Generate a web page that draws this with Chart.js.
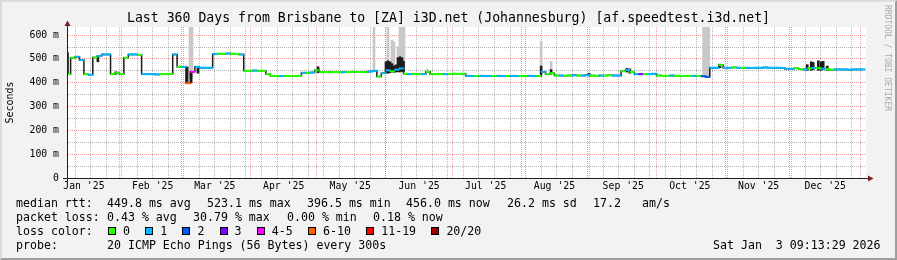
<!DOCTYPE html>
<html>
<head>
<meta charset="utf-8">
<title>Last 360 Days from Brisbane to [ZA] i3D.net (Johannesburg)</title>
<script src="https://cdn.jsdelivr.net/npm/chart.js@4.4.1/dist/chart.umd.min.js"></script>
<style>
  html, body { margin: 0; padding: 0; background: #f2f2f2; }
  #graph { position: relative; width: 897px; height: 260px; background: #f2f2f2; overflow: hidden; }
  #graph canvas { position: absolute; left: 0; top: 0; }
  #frame { position: absolute; left: 0; top: 0; width: 897px; height: 260px; box-sizing: border-box;
           border-top: 2px solid #dcdcdc; border-left: 2px solid #dcdcdc;
           border-right: 2px solid #9e9e9e; border-bottom: 2px solid #9e9e9e; pointer-events: none; }
  .txt { position: absolute; font-family: 'DejaVu Sans Mono', monospace; font-size: 11.6px; line-height: 14px; white-space: pre; color: #000; }
  .box { position: absolute; width: 6px; height: 6px; border: 1px solid #000; }
  #wm { position: absolute; left: 892px; top: 5px; transform-origin: left top; transform: rotate(90deg);
        font-family: 'DejaVu Sans Mono', monospace; font-size: 8px; line-height: 10px; white-space: pre; color: #aaaaaa; }
</style>
</head>
<body>
<div id="graph">
  <canvas id="rrd" width="897" height="260"></canvas>
  <div id="frame"></div>
  <div id="wm">RRDTOOL / TOBI OETIKER</div>

  <div class="txt" style="left:16px;top:196px">median rtt:</div>
  <div class="txt" style="left:107px;top:196px">449.8 ms avg</div>
  <div class="txt" style="left:207px;top:196px">523.1 ms max</div>
  <div class="txt" style="left:307px;top:196px">396.5 ms min</div>
  <div class="txt" style="left:406px;top:196px">456.0 ms now</div>
  <div class="txt" style="left:507px;top:196px">26.2 ms sd</div>
  <div class="txt" style="left:593px;top:196px">17.2</div>
  <div class="txt" style="left:642px;top:196px">am/s</div>

  <div class="txt" style="left:16px;top:210px">packet loss:</div>
  <div class="txt" style="left:107px;top:210px">0.43 % avg</div>
  <div class="txt" style="left:193px;top:210px">30.79 % max</div>
  <div class="txt" style="left:287px;top:210px">0.00 % min</div>
  <div class="txt" style="left:373px;top:210px">0.18 % now</div>

  <div class="txt" style="left:16px;top:224px">loss color:</div>
  <div id="losslegend"></div>

  <div class="txt" style="left:16px;top:238px">probe:</div>
  <div class="txt" style="left:107px;top:238px">20 ICMP Echo Pings (56 Bytes) every 300s</div>
  <div class="txt" style="left:713px;top:238px">Sat Jan  3 09:13:29 2026</div>
</div>

<script>
// time axis: days since 1 Jan 2025 (Brisbane), graph = 360 days ending Sat 3 Jan 2026 09:13
const xStart = 7.38;
const xEnd = 367.38;
const yTop = 634;

const monthStarts = [0, 31, 59, 90, 120, 151, 181, 212, 243, 273, 304, 334, 365];
const monthLabels = ["Jan '25", "Feb '25", "Mar '25", "Apr '25", "May '25", "Jun '25",
                     "Jul '25", "Aug '25", "Sep '25", "Oct '25", "Nov '25", "Dec '25"];
const firstWeekLine = 11;

const yGrid = [0, 50, 100, 150, 200, 250, 300, 350, 400, 450, 500, 550, 600];
const yLabelled = [0, 100, 200, 300, 400, 500, 600];
const yLabels = ['0', '100 m', '200 m', '300 m', '400 m', '500 m', '600 m'];

// median rtt (ms), one value every 2 days starting at day 8
const sampleStart = 8;
const sampleStep = 2;
const medianRtt = [
  436, 505, 509, 495, 436, 433, 506, 512, 519, 519,
  436, 442, 436, 505, 519, 519, 517, 436, 436, 436,
  435, 436, 436, 437, 519, 467, 466, 398, 446, 467,
  463, 463, 463, 521, 522, 521, 523, 522, 520, 519,
  450, 450, 451, 450, 450, 437, 429, 428, 428, 429,
  428, 428, 429, 442, 442, 443, 452, 444, 445, 444,
  445, 444, 444, 445, 446, 445, 445, 444, 447, 450,
  426, 440, 452, 448, 455, 460, 438, 436, 437, 436,
  436, 446, 436, 436, 437, 436, 437, 438, 437, 438,
  429, 428, 428, 429, 428, 428, 428, 429, 428, 428,
  429, 428, 428, 428, 429, 428, 428, 446, 436, 440,
  430, 430, 429, 430, 431, 430, 430, 433, 430, 429,
  430, 430, 431, 430, 430, 448, 453, 445, 436, 436,
  436, 436, 438, 430, 429, 429, 430, 429, 429, 428,
  429, 429, 429, 427, 425, 463, 463, 474, 463, 463,
  464, 463, 463, 463, 462, 463, 463, 464, 463, 463,
  463, 462, 457, 458, 461, 457, 456, 460, 462, 461,
  459, 457, 455, 456, 456, 456, 455, 456, 456, 456
];
// lost pings out of 20 for the same samples
const lossCount = [
  0, 0, 1, 1, 0, 1, 0, 1, 1, 1,
  0, 0, 0, 0, 1, 1, 0, 1, 1, 1,
  1, 0, 0, 0, 1, 0, 1, 7, 4, 1,
  1, 1, 1, 1, 0, 0, 1, 0, 0, 1,
  0, 0, 1, 0, 0, 0, 0, 0, 1, 0,
  0, 0, 0, 1, 0, 1, 0, 0, 0, 0,
  0, 0, 1, 0, 0, 0, 0, 0, 1, 1,
  0, 1, 1, 0, 1, 1, 0, 1, 0, 0,
  1, 0, 0, 0, 0, 1, 0, 0, 0, 0,
  1, 1, 0, 1, 1, 1, 0, 1, 1, 0,
  1, 1, 0, 0, 1, 1, 0, 1, 0, 0,
  0, 1, 0, 0, 1, 0, 1, 1, 0, 0,
  1, 0, 0, 1, 1, 0, 1, 0, 1, 3,
  0, 1, 1, 0, 0, 0, 1, 0, 0, 0,
  0, 1, 0, 2, 2, 1, 1, 0, 1, 1,
  0, 1, 0, 1, 1, 1, 1, 1, 1, 1,
  1, 1, 1, 1, 0, 0, 1, 0, 1, 0,
  1, 0, 0, 1, 1, 1, 1, 1, 1, 1
];

const lossLabels = ['0', '1', '2', '3', '4-5', '6-10', '11-19', '20/20'];
const lossColors = ['#26ff00', '#00b8ff', '#0059ff', '#7e00ff', '#ff00ff', '#ff5e00', '#ff0000', '#a10000'];

// dense smoke (ping spread)
const smokeDays = [7.6, 21.3, 29.5, 61.5, 63.3, 66.4, 120.5,
  151.1, 152.0, 152.9, 153.8, 154.7, 155.6, 156.5, 157.4, 158.3, 159.0,
  221.0, 225.5, 242.6, 259.7, 261.0, 301.6,
  340.9, 342.7, 343.6, 345.9, 347.2, 348.1, 349.9];
const smokeLow = [436, 488, 436, 398, 400, 440, 442,
  445, 440, 442, 445, 444, 445, 446, 445, 448, 446,
  436, 436, 428, 445, 440, 463,
  452, 452, 455, 452, 452, 455, 452];
const smokeHigh = [527, 508, 446, 466, 446, 463, 467,
  488, 492, 488, 480, 470, 475, 505, 509, 505, 490,
  470, 455, 440, 460, 458, 478,
  476, 488, 485, 492, 488, 490, 470];

// faint outlier smoke
const spikeDays = [62.8, 63.7, 145.7, 152.0, 153.8, 154.7, 156.5, 157.4, 158.3, 159.2,
  169.6, 221.0, 225.5, 294.2, 295.0, 295.8, 296.5];
const spikeLow = [420, 420, 450, 490, 480, 470, 505, 505, 505, 470,
  440, 470, 455, 430, 430, 430, 430];
const spikeHigh = [640, 640, 640, 640, 579, 572, 551, 640, 640, 640,
  458, 575, 490, 640, 640, 640, 640];

function lossBucket(n) {
  if (n <= 3) return n;
  if (n <= 5) return 4;
  if (n <= 10) return 5;
  if (n <= 19) return 6;
  return 7;
}

// loss colour legend
const legendBox = document.getElementById('losslegend');
let lx = 108;
lossLabels.forEach(function (lbl, i) {
  const b = document.createElement('div');
  b.className = 'box';
  b.style.left = lx + 'px';
  b.style.top = '227px';
  b.style.background = lossColors[i];
  legendBox.appendChild(b);
  const t = document.createElement('div');
  t.className = 'txt';
  t.style.left = (lx + 15) + 'px';
  t.style.top = '224px';
  t.textContent = lbl;
  legendBox.appendChild(t);
  lx += 30.2 + 7 * lbl.length;
});

const weekTicks = [];
for (let d = firstWeekLine; d < xEnd; d += 7) weekTicks.push({ value: d });

const mono = 'DejaVu Sans Mono';
const gridMajor = 'rgba(230,60,60,0.5)';
const gridMinor = 'rgba(130,130,130,0.6)';
const medianPoints = medianRtt.map((v, i) => ({ x: sampleStart + i * sampleStep, y: v }));

const rrdFrame = {
  id: 'rrdFrame',
  beforeDraw(chart) {
    const { ctx, chartArea: a } = chart;
    ctx.save();
    ctx.fillStyle = '#ffffff';
    ctx.fillRect(a.left, a.top, a.right - a.left, a.bottom - a.top);
    ctx.restore();
  },
  afterDraw(chart) {
    const { ctx, chartArea: a } = chart;
    const L = Math.round(a.left), R = Math.round(a.right), T = Math.round(a.top), B = Math.round(a.bottom);
    ctx.save();
    ctx.strokeStyle = '#1f1f1f';
    ctx.lineWidth = 1;
    ctx.beginPath();
    ctx.moveTo(L - 4, B + 0.5); ctx.lineTo(R + 3, B + 0.5);
    ctx.moveTo(L + 0.5, B + 3); ctx.lineTo(L + 0.5, T - 1);
    ctx.stroke();
    ctx.fillStyle = '#801f1f';
    ctx.beginPath();
    ctx.moveTo(R + 2, B - 2.5); ctx.lineTo(R + 7.5, B + 0.5); ctx.lineTo(R + 2, B + 3.5);
    ctx.closePath(); ctx.fill();
    ctx.beginPath();
    ctx.moveTo(L - 2.5, T - 1); ctx.lineTo(L + 0.5, T - 6.5); ctx.lineTo(L + 3.5, T - 1);
    ctx.closePath(); ctx.fill();
    ctx.restore();
  }
};

new Chart(document.getElementById('rrd'), {
  type: 'line',
  data: {
    datasets: [
      {
        // loss coloured median, one short horizontal dash per sample
        type: 'line',
        label: 'median rtt',
        data: medianPoints,
        showLine: false,
        pointStyle: 'line',
        pointRadius: 2.5,
        pointBorderWidth: 2,
        pointBorderColor: c => lossColors[lossBucket(lossCount[c.dataIndex])],
        order: 0
      },
      {
        // dark connecting steps between samples
        type: 'line',
        label: 'steps',
        data: medianPoints,
        stepped: 'middle',
        borderWidth: 1.5,
        pointRadius: 0,
        borderColor: '#1a1a1a',
        order: 1
      },
      {
        type: 'bar',
        label: 'smoke',
        data: smokeDays.map((d, i) => ({ x: d, y: [smokeLow[i], smokeHigh[i]] })),
        backgroundColor: '#1c1c1c',
        barThickness: 2,
        grouped: false,
        order: 2
      },
      {
        type: 'bar',
        label: 'outliers',
        data: spikeDays.map((d, i) => ({ x: d, y: [spikeLow[i], spikeHigh[i]] })),
        backgroundColor: '#c8c8c8',
        barThickness: 2,
        grouped: false,
        order: 3
      }
    ]
  },
  options: {
    responsive: false,
    animation: false,
    devicePixelRatio: 1,
    events: [],
    layout: { padding: 0 },
    plugins: {
      legend: { display: false },
      tooltip: { enabled: false },
      title: {
        display: true,
        text: 'Last 360 Days from Brisbane to [ZA] i3D.net (Johannesburg) [af.speedtest.i3d.net]',
        color: '#000',
        font: { family: mono, size: 13.2, weight: 'normal', lineHeight: '16px' },
        padding: { top: 11, bottom: 0 }
      }
    },
    scales: {
      x: {
        type: 'linear', position: 'bottom', min: xStart, max: xEnd, offset: false,
        afterBuildTicks: a => { a.ticks = monthStarts.slice(0, 12).map(s => ({ value: s + 15 })); },
        afterFit: a => { a.height = 82; },
        grid: { display: false, drawTicks: false },
        border: { display: true, color: '#1f1f1f', width: 1 },
        ticks: {
          autoSkip: false, maxRotation: 0, padding: 3, color: '#000',
          font: { family: mono, size: 9.8 },
          callback: (v, i) => monthLabels[i]
        }
      },
      xMonth: {
        type: 'linear', position: 'bottom', min: xStart, max: xEnd, offset: false,
        afterBuildTicks: a => { a.ticks = monthStarts.filter(s => s > xStart && s < xEnd).map(s => ({ value: s })); },
        afterFit: a => { a.height = 0; },
        grid: { color: gridMajor, drawTicks: false, lineWidth: 1 },
        border: { display: false, dash: [1, 1] },
        ticks: { display: false }
      },
      xWeek: {
        type: 'linear', position: 'bottom', min: xStart, max: xEnd, offset: false,
        afterBuildTicks: a => { a.ticks = weekTicks.slice(); },
        afterFit: a => { a.height = 0; },
        grid: { color: gridMinor, drawTicks: false, lineWidth: 1 },
        border: { display: false, dash: [1, 1] },
        ticks: { display: false }
      },
      y: {
        type: 'linear', position: 'left', min: 0, max: yTop,
        afterBuildTicks: a => { a.ticks = yGrid.map(v => ({ value: v })); },
        afterFit: a => { a.width = 67; },
        grid: {
          color: c => yLabelled.includes(c.tick.value) ? gridMajor : gridMinor,
          drawTicks: false
        },
        border: { display: true, color: '#1f1f1f', width: 1, dash: [1, 1] },
        ticks: {
          autoSkip: false, padding: 8, color: '#000',
          font: { family: mono, size: 9.8 },
          callback: v => { const k = yLabelled.indexOf(v); return k < 0 ? '' : yLabels[k]; }
        },
        title: {
          display: true, text: 'Seconds', color: '#000',
          font: { family: mono, size: 10 },
          padding: { top: 4, bottom: 0 }
        }
      },
      yRight: {
        type: 'linear', position: 'right', min: 0, max: yTop,
        afterFit: a => { a.width = 31; },
        grid: { display: false, drawTicks: false },
        border: { display: false },
        ticks: { display: false }
      }
    }
  },
  plugins: [rrdFrame]
});
</script>
</body>
</html>
